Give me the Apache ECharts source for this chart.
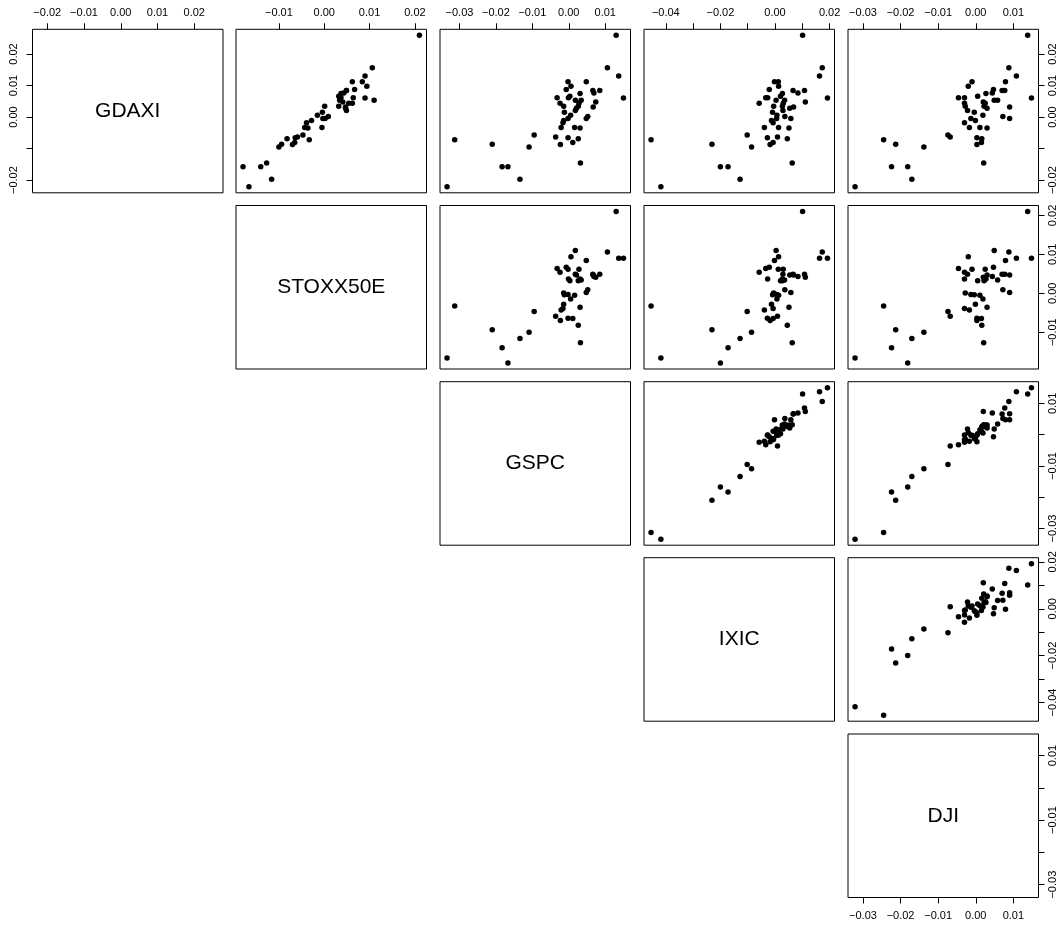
<!DOCTYPE html>
<html>
<head>
<meta charset="utf-8">
<script src="https://cdn.jsdelivr.net/npm/echarts@6/dist/echarts.min.js"></script>
<style>
html,body{margin:0;padding:0;background:#fff;}
#chart{width:1060px;height:928px;}
</style>
</head>
<body>
<div id="chart"></div>
<script>
// ---- data (daily returns) ----
const varNames = ['GDAXI', 'STOXX50E', 'GSPC', 'IXIC', 'DJI'];
const GDAXI    = [0.0259,0.0156,0.0130,0.0112,0.0112,0.0098,0.0087,0.0084,0.0084,0.0076,0.0075,0.0066,0.0061,0.0061,0.0060,0.0053,0.0053,0.0048,0.0044,0.0044,0.0034,0.0034,0.0032,0.0028,0.0021,0.0015,0.0006,0.0002,-0.0005,-0.0005,-0.0011,-0.0018,-0.0033,-0.0033,-0.0035,-0.0057,-0.0063,-0.0066,-0.0069,-0.0072,-0.0081,-0.0086,-0.0087,-0.0095,-0.0146,-0.0158,-0.0158,-0.0197,-0.0221];
const STOXX50E = [0.0210,0.0106,0.0090,0.0062,0.0084,0.0094,0.0067,0.0049,0.0049,0.0043,0.0037,0.0032,0.0064,0.0037,0.0090,0.0110,0.0034,0.0041,0.0054,0.0062,0.0001,0.0032,0.0047,0.0047,0.0049,-0.0004,-0.0015,0.0009,-0.0003,0.0002,-0.0028,-0.0039,-0.0043,-0.0005,-0.0036,-0.0047,-0.0059,-0.0064,-0.0082,-0.0033,-0.0065,-0.0094,-0.0070,-0.0100,-0.0127,-0.0140,-0.0179,-0.0116,-0.0166];
const GSPC     = [0.0130,0.0106,0.0137,-0.0002,0.0048,0.0006,-0.0007,0.0066,0.0085,0.0069,0.0031,0.0003,-0.0032,-0.0001,0.0150,0.0018,0.0034,0.0074,-0.0024,0.0028,-0.0014,0.0026,0.0067,0.0021,0.0018,-0.0012,0.0005,0.0052,-0.0002,0.0048,-0.0014,-0.0016,-0.0021,0.0016,0.0031,-0.0095,-0.0036,-0.0002,0.0026,-0.0313,0.0011,-0.0210,-0.0023,-0.0109,0.0032,-0.0183,-0.0167,-0.0134,-0.0334];
const IXIC     = [0.0101,0.0173,0.0163,0.0012,-0.0002,0.0013,-0.0021,0.0066,0.0108,0.0084,0.0027,0.0020,-0.0034,-0.0027,0.0192,0.0004,0.0035,0.0111,-0.0058,0.0030,-0.0005,0.0027,0.0068,0.0054,0.0029,-0.0009,0.0007,0.0036,0.0006,0.0058,-0.0013,-0.0007,-0.0039,0.0013,0.0051,-0.0102,0.0009,-0.0028,0.0045,-0.0454,-0.0007,-0.0231,-0.0018,-0.0086,0.0063,-0.0172,-0.0200,-0.0128,-0.0418];
const DJI      = [0.0138,0.0088,0.0108,-0.0010,0.0079,-0.0020,0.0047,0.0070,0.0077,0.0044,0.0027,0.0005,-0.0046,-0.0030,0.0148,0.0049,0.0058,0.0020,-0.0030,0.0025,-0.0028,0.0022,0.0090,0.0030,-0.0022,-0.0004,0.0019,0.0072,-0.0013,0.0090,-0.0001,-0.0030,-0.0017,0.0011,0.0030,-0.0074,-0.0068,0.0003,0.0016,-0.0245,0.0015,-0.0213,0.0003,-0.0138,0.0021,-0.0224,-0.0181,-0.0170,-0.0321];

// tick positions and labelled ticks
const tickValues = {
  GDAXI:    [-0.02, -0.01, 0, 0.01, 0.02],
  STOXX50E: [-0.01, 0, 0.01, 0.02],
  GSPC:     [-0.03, -0.02, -0.01, 0, 0.01],
  IXIC:     [-0.04, -0.03, -0.02, -0.01, 0, 0.01, 0.02],
  DJI:      [-0.03, -0.02, -0.01, 0, 0.01]
};
const topLabels = {
  GDAXI:    [-0.02, -0.01, 0, 0.01, 0.02],
  STOXX50E: [-0.01, 0, 0.01, 0.02],
  GSPC:     [-0.03, -0.02, -0.01, 0, 0.01],
  IXIC:     [-0.04, -0.02, 0, 0.02],
  DJI:      [-0.03, -0.02, -0.01, 0, 0.01]
};
const sideLabels = {
  GDAXI:    [-0.02, 0, 0.01, 0.02],
  STOXX50E: [-0.01, 0, 0.01, 0.02],
  GSPC:     [-0.03, -0.01, 0.01],
  IXIC:     [-0.04, -0.02, 0, 0.02],
  DJI:      [-0.03, -0.01, 0.01]
};
const bottomLabels = [-0.03, -0.02, -0.01, 0, 0.01];

// ---- layout ----
const cols = [GDAXI, STOXX50E, GSPC, IXIC, DJI];
const colLeft = [32.5, 236, 440, 644, 848];
const rowTop = [29.3, 205.5, 381.7, 557.7, 734];
const W = 190.5, H = 163.5;
const FONT = '"Liberation Sans", Arial, Helvetica, sans-serif';

function rangeOf(a) {
  const mn = Math.min(...a), mx = Math.max(...a), r = mx - mn;
  return [mn - 0.04 * r, mx + 0.04 * r];
}
const ranges = cols.map(rangeOf);
const fmt = v => (Math.abs(v) < 1e-9 ? '0.00' : v.toFixed(2).replace('-', '\u2212'));

const grids = [], xAxes = [], yAxes = [], series = [], graphics = [];
let k = 0;
for (let i = 0; i < 5; i++) {
  for (let j = i; j < 5; j++) {
    grids.push({left: colLeft[j], top: rowTop[i], width: W, height: H, show: true,
      borderColor: '#000', borderWidth: 1, backgroundColor: 'transparent'});
    const vx = varNames[j], vy = varNames[i];
    const xTop = (i === 0);
    const xBottom = (i === 4 && j === 4);
    xAxes.push({
      gridIndex: k, type: 'value', min: ranges[j][0], max: ranges[j][1],
      position: xTop ? 'top' : 'bottom', show: xTop || xBottom,
      axisLine: {show: false, onZero: false}, splitLine: {show: false},
      axisTick: {show: true, length: 6, inside: false, customValues: tickValues[vx], lineStyle: {color: '#000', width: 1}},
      axisLabel: {show: true, margin: xTop ? 11 : 13, fontSize: 11, color: '#000', fontFamily: FONT,
        customValues: xTop ? topLabels[vx] : bottomLabels, formatter: fmt}
    });
    const yRight = (j === 4);
    const yLeft = (i === 0 && j === 0);
    yAxes.push({
      gridIndex: k, type: 'value', min: ranges[i][0], max: ranges[i][1],
      position: yRight ? 'right' : 'left', show: yRight || yLeft,
      axisLine: {show: false, onZero: false}, splitLine: {show: false},
      axisTick: {show: true, length: 6, inside: false, customValues: tickValues[vy], lineStyle: {color: '#000', width: 1}},
      axisLabel: {show: true, rotate: 90, margin: yRight ? 9 : 13, fontSize: 11, color: '#000', fontFamily: FONT,
        customValues: sideLabels[vy], formatter: fmt}
    });
    if (j > i) {
      const data = cols[j].map((x, n) => [x, cols[i][n]]);
      series.push({type: 'scatter', xAxisIndex: k, yAxisIndex: k, data: data,
        symbol: 'circle', symbolSize: 5.5, itemStyle: {color: '#000', opacity: 1}, silent: true});
    } else {
      graphics.push({type: 'text', x: colLeft[j] + W / 2, y: rowTop[i] + H / 2,
        style: {text: varNames[i], fontSize: 21, fontFamily: FONT, fill: '#000',
          textAlign: 'center', textVerticalAlign: 'middle'}});
    }
    k++;
  }
}

const chart = echarts.init(document.getElementById('chart'), null, {renderer: 'canvas'});
chart.setOption({
  animation: false,
  backgroundColor: '#fff',
  grid: grids, xAxis: xAxes, yAxis: yAxes, series: series, graphic: graphics
});
</script>
</body>
</html>
